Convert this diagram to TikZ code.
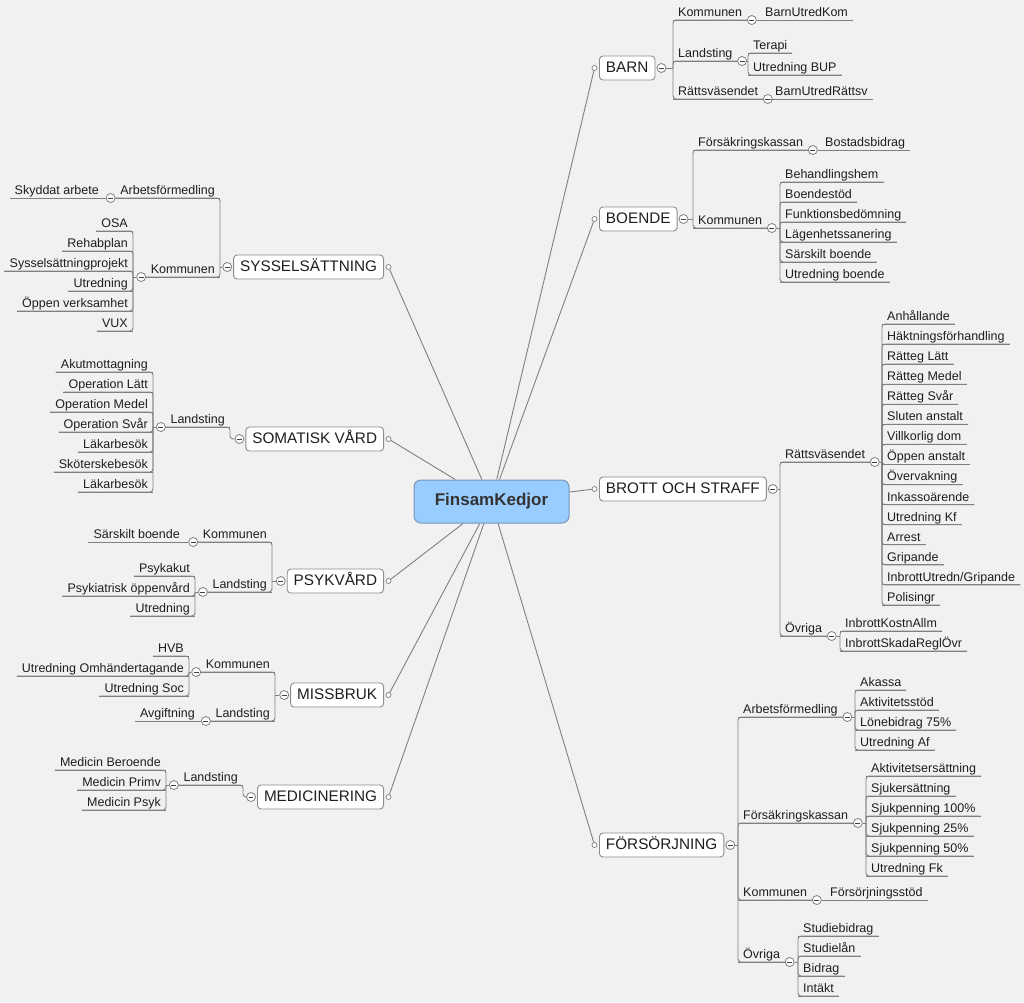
\documentclass[tikz,border=0pt]{standalone}
\usepackage{fontspec}
\setmainfont{Liberation Sans}
\definecolor{bgc}{RGB}{241,241,241}
\definecolor{linec}{RGB}{128,128,128}
\definecolor{boxc}{RGB}{140,140,140}
\definecolor{txt}{RGB}{30,30,30}
\definecolor{cfill}{RGB}{153,204,255}
\definecolor{cdraw}{RGB}{120,150,185}
\definecolor{ctext}{RGB}{51,51,51}
\newcommand\rlab[4]{\node[rl] (#1) at (#2,#3) {#4}; \draw[ln] (#1.south west) -- (#1.south east);}
\newcommand\llab[4]{\node[ll] (#1) at (#2,#3) {#4}; \draw[ln] (#1.south west) -- (#1.south east);}
\newcommand\rmin[2]{\node[mcirc] (#1) at ([xshift=4.5pt]#2.south east) {};}
\newcommand\lmin[2]{\node[mcirc] (#1) at ([xshift=-4.5pt]#2.south west) {};}
\newcommand\rstem[2]{\draw[ln] (#1.east) -- (#2.south west |- #1.east);}
\newcommand\rkid[3]{\draw[ln,rounded corners=3pt] (#2.south west |- #1.east) -- (#3.south west) -- (#3.south east);}
\newcommand\lstem[2]{\draw[ln] (#1.west) -- (#2.south east |- #1.west);}
\newcommand\lkid[3]{\draw[ln,rounded corners=3pt] (#2.south east |- #1.west) -- (#3.south east) -- (#3.south west);}
\begin{document}
\begin{tikzpicture}[x=1pt,y=-1pt,
 ln/.style={draw=linec,line width=0.9pt},
 lf/.style={font=\fontsize{12.5}{14}\selectfont, text=txt, inner xsep=5pt, inner ysep=1.4pt, text height=9pt, text depth=2pt},
 rl/.style={lf,anchor=south west},
 ll/.style={lf,anchor=south east},
 mcirc/.style={circle,draw=linec,fill=white,line width=0.8pt,minimum size=9pt,inner sep=0pt,
   path picture={\draw[line width=1pt,black!75] ([xshift=-2.4pt]path picture bounding box.center) -- ([xshift=2.4pt]path picture bounding box.center);}},
 sdot/.style={circle,draw=linec,fill=white,line width=0.7pt,minimum size=5pt,inner sep=0pt},
 mbox/.style={draw=boxc,fill=white,line width=0.9pt,rounded corners=3.5pt,font=\fontsize{15.3}{18}\selectfont,text=txt,inner xsep=6.5pt,inner ysep=0pt,minimum height=24pt,text height=11pt,text depth=3pt},
 ctr/.style={draw=cdraw,fill=cfill,line width=1pt,rounded corners=7pt,minimum width=155pt,minimum height=43pt,font=\fontsize{17}{20}\selectfont\bfseries,text=ctext}]
\fill[bgc] (0,0) rectangle (1024,1002);
\useasboundingbox (0,0) rectangle (1024,1002);

% ---------- central ----------
\node[ctr] (C) at (491.5,501.5) {FinsamKedjor};

% ---------- main boxes right ----------
\node[mbox,anchor=west] (B) at (599,68) {BARN};
\node[mbox,anchor=west] (O) at (599,219) {BOENDE};
\node[mbox,anchor=west] (S) at (599,489) {BROTT OCH STRAFF};
\node[mbox,anchor=west] (F) at (599,845) {FÖRSÖRJNING};
\foreach \n in {B,O,S,F}{
  \node[sdot] (d\n) at ([xshift=-4.5pt]\n.west) {};
  \node[mcirc] (m\n) at ([xshift=6pt]\n.east) {};
}
% ---------- main boxes left ----------
\node[mbox,anchor=east] (SY) at (384,267) {SYSSELSÄTTNING};
\node[mbox,anchor=east] (SO) at (384,439) {SOMATISK VÅRD};
\node[mbox,anchor=east] (PS) at (384,581) {PSYKVÅRD};
\node[mbox,anchor=east] (MI) at (384,695) {MISSBRUK};
\node[mbox,anchor=east] (ME) at (384,797) {MEDICINERING};
\foreach \n in {SY,SO,PS,MI,ME}{
  \node[sdot] (d\n) at ([xshift=4.5pt]\n.east) {};
  \node[mcirc] (m\n) at ([xshift=-6pt]\n.west) {};
}
\foreach \n in {B,O,S,F,SY,SO,PS,MI,ME} \draw[ln] (C) -- (d\n);

% ================= BARN =================
\rlab{b1}{673}{20}{Kommunen} \rmin{mb1}{b1}
\rlab{b2}{673}{61}{Landsting} \rmin{mb2}{b2}
\rlab{b3}{673}{99}{Rättsväsendet} \rmin{mb3}{b3}
\rstem{mB}{b1} \rkid{mB}{b1}{b1} \rkid{mB}{b1}{b2} \rkid{mB}{b1}{b3}
\rlab{b11}{760}{20}{BarnUtredKom} \draw[ln] (mb1.east) -- (b11.south west);
\rlab{b21}{748}{53}{Terapi}
\rlab{b22}{748}{75}{Utredning BUP}
\rstem{mb2}{b21} \rkid{mb2}{b21}{b21} \rkid{mb2}{b21}{b22}
\rlab{b31}{770}{99}{BarnUtredRättsv} \draw[ln] (mb3.east) -- (b31.south west);

% ================= BOENDE =================
\rlab{o1}{693}{150}{Försäkringskassan} \rmin{mo1}{o1}
\rlab{o2}{693}{228}{Kommunen} \rmin{mo2}{o2}
\rstem{mO}{o1} \rkid{mO}{o1}{o1} \rkid{mO}{o1}{o2}
\rlab{o11}{820}{150}{Bostadsbidrag} \draw[ln] (mo1.east) -- (o11.south west);
\foreach \t [count=\i] in {Behandlingshem,Boendestöd,Funktionsbedömning,Lägenhetssanering,Särskilt boende,Utredning boende}{
  \rlab{o2\i}{780}{162+20*\i}{\t}
}
\rstem{mo2}{o21}
\foreach \i in {1,...,6} {\rkid{mo2}{o21}{o2\i}}

% ================= BROTT OCH STRAFF =================
\rlab{s1}{780}{462}{Rättsväsendet} \rmin{ms1}{s1}
\rlab{s2}{780}{636}{Övriga} \rmin{ms2}{s2}
\rstem{mS}{s1} \rkid{mS}{s1}{s1} \rkid{mS}{s1}{s2}
\foreach \t [count=\i from 0] in {Anhållande,Häktningsförhandling,Rätteg Lätt,Rätteg Medel,Rätteg Svår,Sluten anstalt,Villkorlig dom,Öppen anstalt,Övervakning,Inkassoärende,Utredning Kf,Arrest,Gripande,{InbrottUtredn/Gripande},Polisingr}{
  \rlab{sr\i}{882}{324+20.07*\i}{\t}
}
\rstem{ms1}{sr0}
\foreach \i in {0,...,14} {\rkid{ms1}{sr0}{sr\i}}
\rlab{so1}{840}{631}{InbrottKostnAllm}
\rlab{so2}{840}{651}{InbrottSkadaReglÖvr}
\rstem{ms2}{so1} \rkid{ms2}{so1}{so1} \rkid{ms2}{so1}{so2}

% ================= FÖRSÖRJNING =================
\rlab{f1}{738}{717}{Arbetsförmedling} \rmin{mf1}{f1}
\rlab{f2}{738}{823}{Försäkringskassan} \rmin{mf2}{f2}
\rlab{f3}{738}{900}{Kommunen} \rmin{mf3}{f3}
\rlab{f4}{738}{962}{Övriga} \rmin{mf4}{f4}
\rstem{mF}{f1}
\foreach \i in {1,...,4} {\rkid{mF}{f1}{f\i}}
\foreach \t [count=\i] in {Akassa,Aktivitetsstöd,Lönebidrag 75\%,Utredning Af}{
  \rlab{fa\i}{855}{670+20*\i}{\t}
}
\rstem{mf1}{fa1}
\foreach \i in {1,...,4} {\rkid{mf1}{fa1}{fa\i}}
\foreach \t [count=\i] in {Aktivitetsersättning,Sjukersättning,Sjukpenning 100\%,Sjukpenning 25\%,Sjukpenning 50\%,Utredning Fk}{
  \rlab{fk\i}{866}{756+20*\i}{\t}
}
\rstem{mf2}{fk1}
\foreach \i in {1,...,6} {\rkid{mf2}{fk1}{fk\i}}
\rlab{f31}{825}{900}{Försörjningsstöd} \draw[ln] (mf3.east) -- (f31.south west);
\foreach \t [count=\i] in {Studiebidrag,Studielån,Bidrag,Intäkt}{
  \rlab{fo\i}{798}{916+20*\i}{\t}
}
\rstem{mf4}{fo1}
\foreach \i in {1,...,4} {\rkid{mf4}{fo1}{fo\i}}

% ================= SYSSELSÄTTNING =================
\llab{y1}{220}{198}{Arbetsförmedling} \lmin{my1}{y1}
\llab{y2}{220}{277}{Kommunen} \lmin{my2}{y2}
\lstem{mSY}{y1} \lkid{mSY}{y1}{y1} \lkid{mSY}{y1}{y2}
\llab{y11}{104}{198}{Skyddat arbete} \draw[ln] (my1.west) -- (y11.south east);
\foreach \t [count=\i] in {OSA,Rehabplan,Sysselsättningprojekt,Utredning,Öppen verksamhet,VUX}{
  \llab{y2\i}{133}{211+20*\i}{\t}
}
\lstem{my2}{y21}
\foreach \i in {1,...,6} {\lkid{my2}{y21}{y2\i}}

% ================= SOMATISK VÅRD =================
\llab{v1}{230}{427}{Landsting} \lmin{mv1}{v1}
\draw[ln,rounded corners=3pt] (mSO.west) -| (v1.south east) -- (v1.south west);
\foreach \t [count=\i] in {Akutmottagning,Operation Lätt,Operation Medel,Operation Svår,Läkarbesök,Sköterskebesök,Läkarbesök}{
  \llab{v1\i}{153}{352+20*\i}{\t}
}
\lstem{mv1}{v11}
\foreach \i in {1,...,7} {\lkid{mv1}{v11}{v1\i}}

% ================= PSYKVÅRD =================
\llab{p1}{272}{542}{Kommunen} \lmin{mp1}{p1}
\llab{p2}{272}{592}{Landsting} \lmin{mp2}{p2}
\lstem{mPS}{p1} \lkid{mPS}{p1}{p1} \lkid{mPS}{p1}{p2}
\llab{p11}{185}{542}{Särskilt boende} \draw[ln] (mp1.west) -- (p11.south east);
\foreach \t [count=\i] in {Psykakut,Psykiatrisk öppenvård,Utredning}{
  \llab{p2\i}{195}{556+20*\i}{\t}
}
\lstem{mp2}{p21}
\foreach \i in {1,...,3} {\lkid{mp2}{p21}{p2\i}}

% ================= MISSBRUK =================
\llab{k1}{275}{672}{Kommunen} \lmin{mk1}{k1}
\llab{k2}{275}{721}{Landsting} \lmin{mk2}{k2}
\lstem{mMI}{k1} \lkid{mMI}{k1}{k1} \lkid{mMI}{k1}{k2}
\foreach \t [count=\i] in {HVB,Utredning Omhändertagande,Utredning Soc}{
  \llab{k1\i}{189}{636+20*\i}{\t}
}
\lstem{mk1}{k11}
\foreach \i in {1,...,3} {\lkid{mk1}{k11}{k1\i}}
\llab{k21}{200}{721}{Avgiftning} \draw[ln] (mk2.west) -- (k21.south east);

% ================= MEDICINERING =================
\llab{e1}{243}{785}{Landsting} \lmin{me1}{e1}
\draw[ln,rounded corners=3pt] (mME.west) -| (e1.south east) -- (e1.south west);
\foreach \t [count=\i] in {Medicin Beroende,Medicin Primv,Medicin Psyk}{
  \llab{e1\i}{166}{750+20*\i}{\t}
}
\lstem{me1}{e11}
\foreach \i in {1,...,3} {\lkid{me1}{e11}{e1\i}}
\end{tikzpicture}
\end{document}
